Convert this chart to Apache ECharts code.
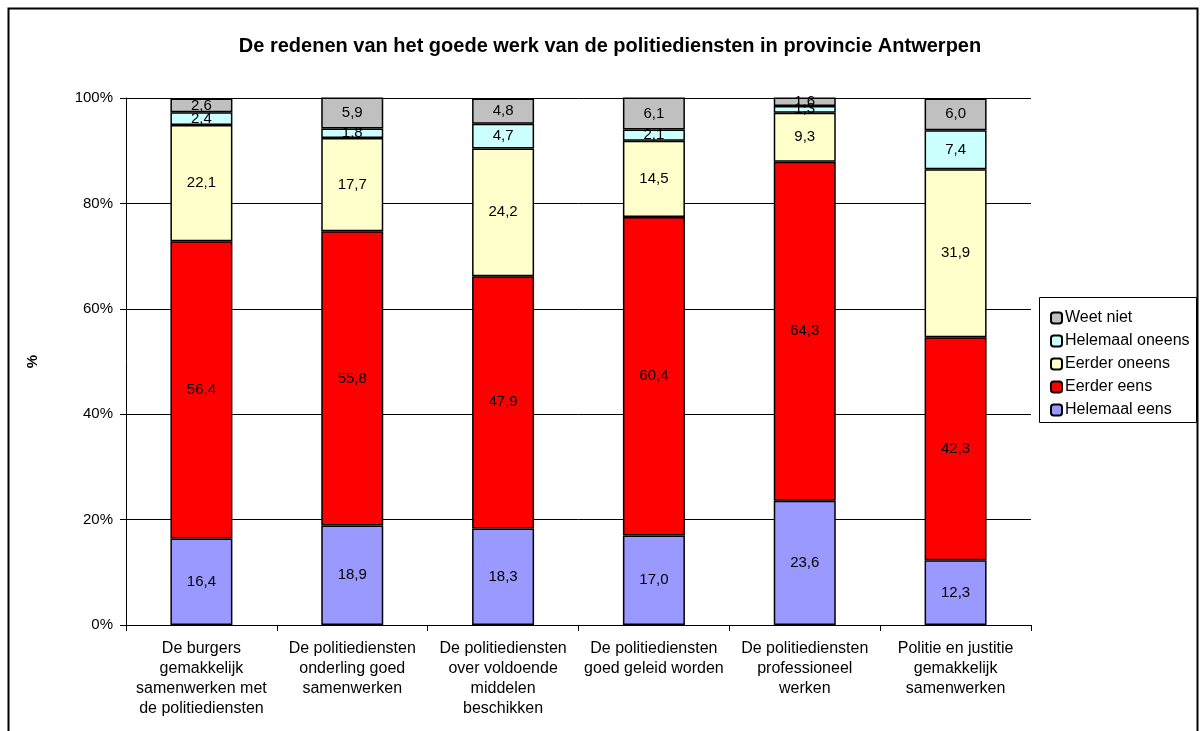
<!DOCTYPE html>
<html>
<head>
<meta charset="utf-8">
<script src="https://cdn.jsdelivr.net/npm/echarts@6/dist/echarts.min.js"></script>
<style>
  html, body { margin: 0; padding: 0; background: #fff; }
  #chart { width: 1201px; height: 731px; }
</style>
</head>
<body>
<div id="chart"></div>
<script>
// categorieen (x-as)
var categories = [
    'De burgers\ngemakkelijk\nsamenwerken met\nde politiediensten',
    'De politiediensten\nonderling goed\nsamenwerken',
    'De politiediensten\nover voldoende\nmiddelen\nbeschikken',
    'De politiediensten\ngoed geleid worden',
    'De politiediensten\nprofessioneel\nwerken',
    'Politie en justitie\ngemakkelijk\nsamenwerken'
];

// waarden per antwoord (%)
var helemaalEens   = [16.4, 18.9, 18.3, 17.0, 23.6, 12.3];
var eerderEens     = [56.4, 55.8, 47.9, 60.4, 64.3, 42.3];
var eerderOneens   = [22.1, 17.7, 24.2, 14.5, 9.3, 31.9];
var helemaalOneens = [2.4, 1.8, 4.7, 2.1, 1.3, 7.4];
var weetNiet       = [2.6, 5.9, 4.8, 6.1, 1.6, 6.0];

var yTicks = [0, 20, 40, 60, 80, 100];

var fontFam = 'Liberation Sans, Arial, sans-serif';

function makeSerie(name, data, color) {
    return {
        name: name,
        type: 'bar',
        stack: 'totaal',
        barWidth: 62,
        data: data,
        itemStyle: { color: color, borderColor: '#000', borderWidth: 1.5 },
        label: {
            show: true,
            position: 'inside',
            color: '#000',
            fontFamily: fontFam,
            fontSize: 15,
            formatter: function (p) { return p.value.toFixed(1).replace('.', ','); }
        },
        emphasis: { disabled: true }
    };
}

var myChart = echarts.init(document.getElementById('chart'));

var option = {
    backgroundColor: '#fff',
    animation: false,
    title: {
        text: 'De redenen van het goede werk van de politiediensten in provincie Antwerpen',
        left: 605,
        textAlign: 'center',
        top: 31,
        textStyle: { fontFamily: fontFam, fontSize: 20, fontWeight: 'bold', color: '#000' }
    },
    graphic: [
        {
            type: 'rect',
            shape: { x: 8.5, y: 8.5, width: 1189, height: 740 },
            style: { fill: 'none', stroke: '#000', lineWidth: 2 },
            silent: true
        },
        {
            type: 'rect',
            shape: { x: 1039.5, y: 297.5, width: 157, height: 125 },
            style: { fill: '#fff', stroke: '#000', lineWidth: 1 },
            silent: true,
            z: 0
        }
    ],
    legend: {
        orient: 'vertical',
        left: 1045,
        top: 305,
        itemWidth: 11,
        itemHeight: 11,
        itemGap: 7,
        z: 5,
        data: ['Weet niet', 'Helemaal oneens', 'Eerder oneens', 'Eerder eens', 'Helemaal eens'],
        textStyle: { fontFamily: fontFam, fontSize: 16, color: '#000', padding: [0, 0, 0, -2] }
    },
    grid: { left: 126, right: 170, top: 98, bottom: 106 },
    xAxis: {
        type: 'category',
        data: categories,
        axisLine: { lineStyle: { color: '#000', width: 1 } },
        axisTick: { show: true, alignWithLabel: false, length: 6, lineStyle: { color: '#000' } },
        axisLabel: {
            interval: 0,
            color: '#000',
            fontFamily: fontFam,
            fontSize: 16,
            lineHeight: 20,
            margin: 14
        }
    },
    yAxis: {
        type: 'value',
        min: 0,
        max: 100,
        interval: 20,
        name: '%',
        nameLocation: 'middle',
        nameGap: 86,
        nameRotate: 90,
        nameTextStyle: { fontFamily: fontFam, fontSize: 15, fontWeight: 'bold', color: '#000' },
        axisLine: { show: true, lineStyle: { color: '#000', width: 1 } },
        axisTick: { show: true, length: 6, lineStyle: { color: '#000' } },
        axisLabel: {
            color: '#000',
            fontFamily: fontFam,
            fontSize: 15,
            margin: 13,
            formatter: function (v) { return yTicks.indexOf(v) >= 0 ? v + '%' : ''; }
        },
        splitLine: { show: true, lineStyle: { color: '#000', width: 1 } }
    },
    series: [
        makeSerie('Helemaal eens', helemaalEens, '#9999FF'),
        makeSerie('Eerder eens', eerderEens, '#FF0000'),
        makeSerie('Eerder oneens', eerderOneens, '#FFFFCC'),
        makeSerie('Helemaal oneens', helemaalOneens, '#CCFFFF'),
        makeSerie('Weet niet', weetNiet, '#C0C0C0')
    ]
};

myChart.setOption(option);
</script>
</body>
</html>
